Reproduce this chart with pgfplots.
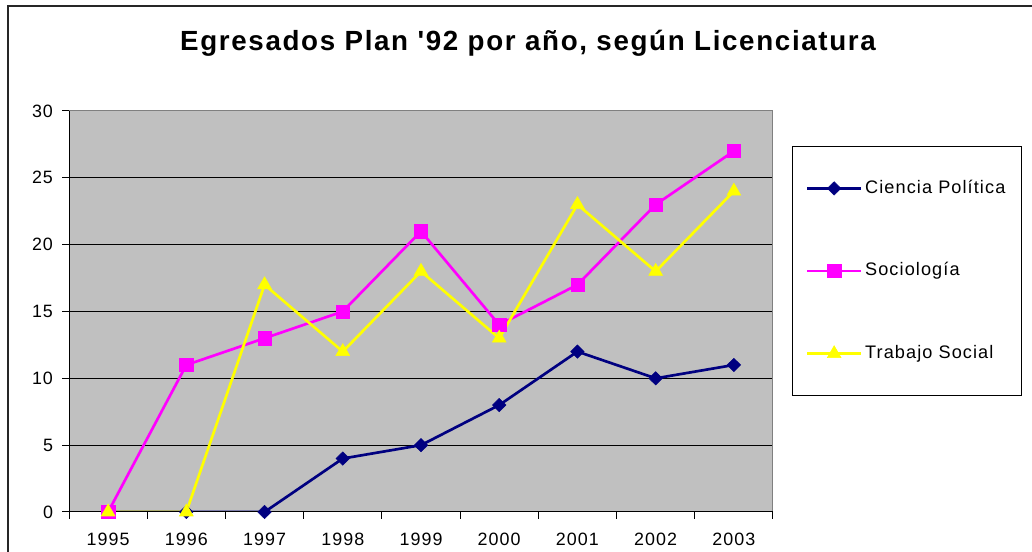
\documentclass[border=0pt]{standalone}
\usepackage{pgfplots}
\pgfplotsset{compat=1.18}
\usepackage{fontspec}
\setmainfont{Liberation Sans}[LetterSpace=6]
\newfontfamily\titlefont{Liberation Sans}[LetterSpace=6]
\definecolor{cnavy}{RGB}{0,0,128}
\definecolor{cmag}{RGB}{255,0,255}
\definecolor{cyel}{RGB}{255,255,0}
\definecolor{cbg}{RGB}{192,192,192}
\definecolor{cborder}{RGB}{128,128,128}
\begin{document}
\begin{tikzpicture}[x=0.75pt,y=0.75pt]
\useasboundingbox (0,0) rectangle (1032,552);
\fill[white] (0,0) rectangle (1032,552);
\draw[line width=1.3pt, black!85] (8,-5) -- (8,546) -- (1040,546);
\node[anchor=base, font=\titlefont\bfseries\fontsize{20.8}{25}\selectfont] at (528,501) {Egresados Plan '92 por año, según Licenciatura};
\begin{axis}[
  at={(51.75pt,30pt)}, anchor=south west,
  scale only axis, width=528pt, height=300.75pt,
  xmin=-0.5, xmax=8.5, ymin=0, ymax=30,
  xtick={-0.5,0.5,1.5,2.5,3.5,4.5,5.5,6.5,7.5,8.5},
  x tick label as interval,
  xticklabels={1995,1996,1997,1998,1999,2000,2001,2002,2003},
  ytick={0,5,10,15,20,25,30},
  xtick pos=bottom, ytick pos=left,
  ymajorgrids, grid style={black, line width=0.75pt},
  tick align=outside, major tick length=5pt,
  tick style={black, line width=0.75pt},
  axis line style={draw=cborder, line width=0.75pt},
  axis background/.style={fill=cbg},
  ticklabel style={font=\fontsize{13.4}{16}\selectfont},
  xticklabel style={yshift=-7.5pt},
  yticklabel style={xshift=-3.5pt},
  /pgf/number format/assume math mode=true,
  legend style={at={(axis description cs:1.027,0.913)}, anchor=north west,
    draw=black, line width=0.75pt, fill=white, font=\fontsize{13.6}{16}\selectfont,
    row sep=45pt, inner xsep=10pt, inner ysep=23pt,
    nodes={text height=10pt, text depth=3pt, inner sep=2pt}},
  legend cell align=left,
  legend image code/.code={\draw[mark repeat=2,mark phase=2,#1] plot coordinates {(0pt,0pt) (20.25pt,0pt) (40.5pt,0pt)};},
]
\addplot[cnavy, line width=2pt, mark=diamond*, mark size=5pt, mark options={solid, fill=cnavy, draw=cnavy, line width=0.4pt, xscale=1.35}]
  coordinates {(0,0) (1,0) (2,0) (3,4) (4,5) (5,8) (6,12) (7,10) (8,11)};
\addlegendentry{Ciencia Política}
\addplot[cmag, line width=2pt, mark=square*, mark size=5pt, mark options={solid, fill=cmag, draw=cmag, line width=0.4pt}]
  coordinates {(0,0) (1,11) (2,13) (3,15) (4,21) (5,14) (6,17) (7,23) (8,27)};
\addlegendentry{Sociología}
\addplot[cyel, line width=2pt, mark=triangle*, mark size=6pt, mark options={solid, fill=cyel, draw=cyel, line width=0.4pt}]
  coordinates {(0,0) (1,0) (2,17) (3,12) (4,18) (5,13) (6,23) (7,18) (8,24)};
\addlegendentry{Trabajo Social}
\draw[black, line width=1.2pt] (rel axis cs:0,1) -- (rel axis cs:0,0) -- (rel axis cs:1,0);
\end{axis}
\end{tikzpicture}
\end{document}
